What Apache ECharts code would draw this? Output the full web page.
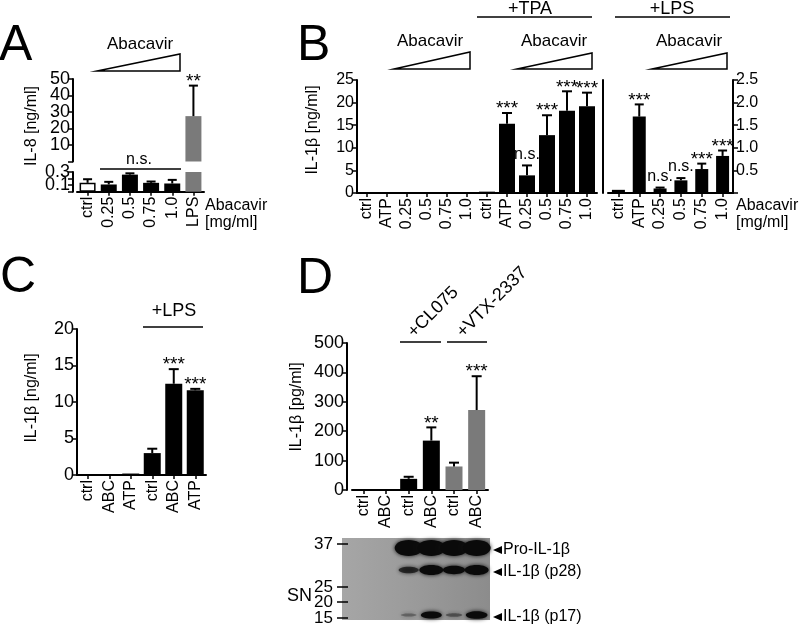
<!DOCTYPE html>
<html><head><meta charset="utf-8">
<script src="https://cdn.jsdelivr.net/npm/echarts@6/dist/echarts.min.js"></script>
<style>html,body{margin:0;padding:0;background:#fff}#c{width:800px;height:631px}</style>
</head><body><div id="c"></div>
<script>
// ---------------- DATA ----------------
// Panel A (IL-8, ng/ml)
const catsA = ['ctrl', '0.25', '0.5', '0.75', '1.0', 'LPS'];
const valsA = [0.135, 0.11, 0.26, 0.135, 0.125, 27.5];
const errA  = [0.19, 0.15, 0.28, 0.155, 0.18, 46];
const sigA  = ['', '', '', '', '', '**'];
// Panel B left (IL-1β ng/ml): no priming, then +TPA
const catsB  = ['ctrl', 'ATP', '0.25', '0.5', '0.75', '1.0', 'ctrl', 'ATP', '0.25', '0.5', '0.75', '1.0'];
const valsB  = [0, 0, 0, 0, 0, 0, 0.3, 15.3, 3.9, 12.8, 18.2, 19.2];
const errB   = [null, null, null, null, null, null, null, 17.7, 6.1, 17.2, 22.5, 22.2];
const sigB   = ['', '', '', '', '', '', '', '***', 'n.s.', '***', '***', '***'];
// Panel B right (+LPS, right axis)
const catsBR = ['ctrl', 'ATP', '0.25', '0.5', '0.75', '1.0'];
const valsBR = [0.07, 1.69, 0.1, 0.28, 0.53, 0.82];
const errBR  = [null, 1.96, 0.12, 0.33, 0.65, 0.94];
const sigBR  = ['', '***', 'n.s.', 'n.s.', '***', '***'];
// Panel C (IL-1β ng/ml)
const catsC = ['ctrl', 'ABC', 'ATP', 'ctrl', 'ABC', 'ATP'];
const valsC = [0.05, 0.05, 0.2, 3.0, 12.5, 11.6];
const errC  = [null, null, null, 3.6, 14.5, 11.8];
const sigC  = ['', '', '', '', '***', '***'];
// Panel D (IL-1β pg/ml)
const catsD = ['ctrl', 'ABC', 'ctrl', 'ABC', 'ctrl', 'ABC'];
const valsD = [3, 1, 38, 168, 80, 272];
const errD  = [null, null, 45, 213, 93, 387];
const sigD  = ['', '', '', '**', '', '***'];
// Western blot band intensities per lane (0..1)
const bandPro = [0, 0, 1, 1, 1, 1];
const bandP28 = [0, 0, 0.45, 1, 0.75, 1];
const bandP17 = [0, 0, 0.06, 0.85, 0.15, 0.95];
const mwLabels = ['37', '25', '20', '15'];
const bandLabels = ['Pro-IL-1β', 'IL-1β (p28)', 'IL-1β (p17)'];

// ---------------- STYLE / LAYOUT ----------------
const FONT = '"Liberation Sans", Arial, Helvetica, sans-serif';
const BLACK = '#000', GRAY = '#7a7a7a';
const colorsA = ['#fff', BLACK, BLACK, BLACK, BLACK, GRAY];
const colorsD = [BLACK, BLACK, BLACK, BLACK, GRAY, GRAY];

const chart = echarts.init(document.getElementById('c'), null, {renderer: 'canvas'});

function grid(left, top, width, height) {
  return {left, top, width, height, containLabel: false, outerBoundsMode: 'none', show: false};
}
function xAx(gi, cats, show) {
  return {type: 'category', gridIndex: gi, data: cats, show: show !== false,
    axisLine: {show: true, onZero: false, lineStyle: {color: BLACK, width: 2}},
    axisTick: {show: true, alignWithLabel: true, length: 4, lineStyle: {color: BLACK, width: 1.5}},
    axisLabel: {rotate: 90, color: BLACK, fontSize: 16, fontFamily: FONT, margin: 5, interval: 0, hideOverlap: false},
    splitLine: {show: false}};
}
function yAx(gi, min, max, interval, fmt, size, extra) {
  return Object.assign({type: 'value', gridIndex: gi, min, max, interval,
    splitLine: {show: false},
    axisLine: {show: true, lineStyle: {color: BLACK, width: 2}},
    axisTick: {show: true, length: 5, lineStyle: {color: BLACK, width: 1.5}},
    axisLabel: {color: BLACK, fontSize: size, fontFamily: FONT, margin: 3, formatter: fmt, hideOverlap: false}}, extra || {});
}
function bars(xi, yi, vals, width, colors) {
  return {type: 'bar', xAxisIndex: xi, yAxisIndex: yi, barWidth: width, clip: true, silent: true,
    animation: false,
    data: vals.map((v, i) => ({value: v, itemStyle: {
      color: colors ? colors[i] : BLACK,
      borderColor: BLACK, borderWidth: (colors && colors[i] === '#fff') ? 1.5 : 0}}))};
}
function errs(xi, yi, vals, errv, sigs, cap, keep) {
  return {type: 'custom', xAxisIndex: xi, yAxisIndex: yi, z: 10, silent: true, clip: false,
    animation: false,
    data: vals.map((v, i) => [i, v, errv[i] == null ? v : errv[i]]),
    renderItem(params, api) {
      const i = params.dataIndex;
      const ch = [];
      if (keep && !keep(i)) return {type: 'group', children: ch};
      const v = api.value(1), e = api.value(2);
      const b = api.coord([i, v]), t = api.coord([i, e]);
      if (e > v) {
        ch.push({type: 'line', shape: {x1: b[0], y1: b[1], x2: t[0], y2: t[1]}, style: {stroke: BLACK, lineWidth: 2}});
        ch.push({type: 'line', shape: {x1: t[0] - cap / 2, y1: t[1], x2: t[0] + cap / 2, y2: t[1]}, style: {stroke: BLACK, lineWidth: 2}});
      }
      const s = sigs[i];
      if (s) {
        const ns = s === 'n.s.';
        ch.push({type: 'text', x: t[0], y: t[1] - (ns ? 11 : 4),
          style: {text: s, font: (ns ? '16px ' : '19px ') + FONT, fill: BLACK,
            align: 'center', verticalAlign: 'middle', textAlign: 'center', textVerticalAlign: 'middle'}});
      }
      return {type: 'group', children: ch};
    }};
}

const option = {
  animation: false,
  backgroundColor: '#fff',
  textStyle: {fontFamily: FONT},
  grid: [
    grid(77, 79, 127, 82.5),     // 0 A upper
    grid(77, 172, 127, 19.7),    // 1 A lower
    grid(357, 80, 240, 113),     // 2 B left
    grid(608, 80, 125, 113),     // 3 B right
    grid(77, 329, 129, 146),     // 4 C
    grid(352, 343, 136, 147)     // 5 D
  ],
  xAxis: [
    xAx(0, catsA, false),
    xAx(1, catsA),
    xAx(2, catsB),
    xAx(3, catsBR),
    xAx(4, catsC),
    xAx(5, catsD)
  ],
  yAxis: [
    yAx(0, 0, 50.01, 10, v => (v === 0 || v > 50) ? '' : String(v), 18, {offset: 4}),
    yAx(1, 0, 0.3, 0.1, v => (Math.abs(v - 0.1) < 1e-6 ? '0.1' : Math.abs(v - 0.3) < 1e-6 ? '0.3' : ''), 18, {offset: 4}),
    yAx(2, 0, 25, 5, v => String(v), 16),
    yAx(3, 0, 2.5, 0.5, v => '', 16, {offset: 5, axisTick: {show: false}, axisLabel: {show: false}}),
    yAx(3, 0, 2.5, 0.5, v => v === 0 ? '' : v.toFixed(1), 16, {position: 'right'}),
    yAx(4, 0, 20, 5, v => String(v), 18),
    yAx(5, 0, 500, 100, v => String(v), 18, {offset: 5})
  ],
  series: [
    bars(0, 0, valsA.map(v => v > 1 ? v : '-'), 16, colorsA),
    errs(0, 0, valsA, errA, sigA, 9, i => valsA[i] > 1),
    bars(1, 1, valsA, 16, colorsA),
    errs(1, 1, valsA, errA, sigA, 9, i => errA[i] <= 0.3),
    bars(2, 2, valsB, 16),
    errs(2, 2, valsB, errB, sigB, 10),
    bars(3, 4, valsBR, 13),
    errs(3, 4, valsBR, errBR, sigBR, 9),
    bars(4, 5, valsC, 17),
    errs(4, 5, valsC, errC, sigC, 10),
    bars(5, 6, valsD, 17, colorsD),
    errs(5, 6, valsD, errD, sigD, 10)
  ]
};
chart.setOption(option);

// ---------------- ANNOTATIONS ----------------
const G = [];
function T(x, y, s, size, o) {
  o = o || {};
  G.push({type: 'text', x, y, rotation: o.rot || 0, z: 20, silent: true,
    style: {text: s, font: size + 'px ' + FONT, fill: o.fill || BLACK,
      align: o.align || 'center', verticalAlign: o.va || 'middle',
      textAlign: o.align || 'center', textVerticalAlign: o.va || 'middle'}});
}
function L(x1, y1, x2, y2, w) {
  G.push({type: 'line', z: 20, silent: true, shape: {x1, y1, x2, y2}, style: {stroke: BLACK, lineWidth: w || 1.5}});
}
function tri(xl, yb, xr, yt) {
  G.push({type: 'polygon', z: 20, silent: true, shape: {points: [[xl, yb], [xr, yt], [xr, yb]]},
    style: {fill: '#fff', stroke: BLACK, lineWidth: 1.5}});
}
// panel letters
T(-1, 46, 'A', 50, {align: 'left'});
T(297, 46, 'B', 50, {align: 'left'});
T(0, 278, 'C', 50, {align: 'left'});
T(297, 279, 'D', 50, {align: 'left'});
// A header
T(140, 44, 'Abacavir', 17); tri(97, 71, 180, 54);
L(100, 169, 181, 169); T(139, 160, 'n.s.', 16);
T(205, 206, 'Abacavir', 16, {align: 'left'}); T(205, 223, '[mg/ml]', 16, {align: 'left'});
T(32, 126, 'IL-8 [ng/ml]', 16, {rot: Math.PI / 2});
// B header
T(530, 9, '+TPA', 18); L(477, 17, 592, 17);
T(672, 9, '+LPS', 18); L(615, 17, 730, 17);
T(430, 41, 'Abacavir', 17); tri(394, 69, 470, 52);
T(554, 41, 'Abacavir', 17); tri(517, 69, 592, 53);
T(689, 41, 'Abacavir', 17); tri(652, 69, 727, 53);
T(736, 206, 'Abacavir', 16, {align: 'left'}); T(736, 223, '[mg/ml]', 16, {align: 'left'});
T(313, 130, 'IL-1β [ng/ml]', 16, {rot: Math.PI / 2});
// C
T(174, 311, '+LPS', 18); L(143, 327, 203, 327);
T(32, 398, 'IL-1β [ng/ml]', 16, {rot: Math.PI / 2});
// D
T(417, 341, '+CL075', 18, {align: 'left', va: 'bottom', rot: Math.PI / 4});
T(466, 341, '+VTX-2337', 18, {align: 'left', va: 'bottom', rot: Math.PI / 4});
L(400, 342, 441, 342); L(447, 342, 487, 342);
T(297, 407, 'IL-1β [pg/ml]', 16, {rot: Math.PI / 2});

// Western blot
G.push({type: 'rect', z: 15, silent: true, shape: {x: 342, y: 538, width: 148, height: 82},
  style: {fill: new echarts.graphic.LinearGradient(0, 0, 1, 0, [
    {offset: 0, color: '#a6a6a6'}, {offset: 0.5, color: '#9a9a9a'}, {offset: 1, color: '#8c8c8c'}])}});
const lanes = catsD.map((c, i) => chart.convertToPixel({xAxisIndex: 5}, i));
function band(arr, y, rx, ry) {
  arr.forEach((a, i) => {
    if (a <= 0) return;
    G.push({type: 'ellipse', z: 16, silent: true,
      shape: {cx: lanes[i], cy: y, rx: rx * (0.7 + 0.3 * a), ry: ry * (0.35 + 0.65 * a)},
      style: {fill: '#0a0a0a', opacity: Math.min(1, 0.25 + a), shadowBlur: 4, shadowColor: '#111'}});
  });
}
band(bandPro, 548, 14, 8);
band(bandP28, 570, 12, 5);
band(bandP17, 615, 11, 4);
const mwY = [544, 587, 602, 618];
mwLabels.forEach((m, i) => { T(333, mwY[i], m, 17, {align: 'right'}); L(337, mwY[i], 348, mwY[i], 1.5); });
T(287, 596, 'SN', 18, {align: 'left'});
const blY = [550, 572, 617];
bandLabels.forEach((s, i) => {
  G.push({type: 'polygon', z: 20, silent: true, shape: {points: [[493, blY[i]], [502, blY[i] - 4], [502, blY[i] + 4]]}, style: {fill: BLACK}});
  T(503, blY[i], s, 16, {align: 'left'});
});

chart.setOption({graphic: G});
</script></body></html>
